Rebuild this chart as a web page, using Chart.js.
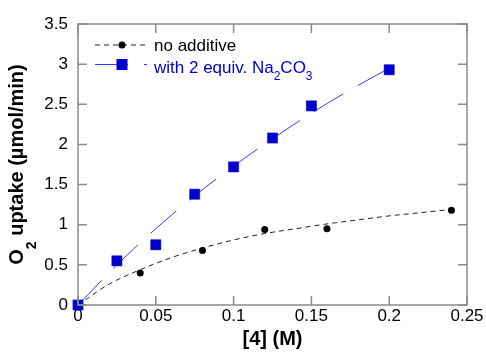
<!DOCTYPE html>
<html><head><meta charset="utf-8">
<script src="https://cdn.jsdelivr.net/npm/chart.js@4/dist/chart.umd.min.js"></script>
<style>html,body{margin:0;padding:0;background:#fff}canvas{display:block}</style>
</head><body>
<canvas id="c" width="486" height="352"></canvas>
<script>
// ---- data ----
const concNoAdd = [0, 0.04, 0.08, 0.12, 0.16, 0.24];
const uptakeNoAdd = [0, 0.40, 0.68, 0.94, 0.95, 1.18];
const concNa2CO3 = [0, 0.025, 0.05, 0.075, 0.1, 0.125, 0.15, 0.2];
const uptakeNa2CO3 = [0, 0.55, 0.75, 1.38, 1.72, 2.08, 2.48, 2.93];
const fitConcNoAdd = [0, 0.02, 0.04, 0.06, 0.08, 0.10, 0.12, 0.14, 0.16, 0.18, 0.20, 0.22, 0.24];
const fitNoAdd = [0, 0.26, 0.44, 0.59, 0.71, 0.81, 0.89, 0.95, 1.01, 1.06, 1.11, 1.15, 1.19];
const fitConcNa2CO3 = [0, 0.025, 0.05, 0.075, 0.1, 0.125, 0.15, 0.175, 0.2];
const fitNa2CO3 = [0, 0.50, 0.95, 1.36, 1.73, 2.07, 2.39, 2.68, 2.95];
const xTicks = [0, 0.05, 0.1, 0.15, 0.2, 0.25];
const yTicks = [0, 0.5, 1, 1.5, 2, 2.5, 3, 3.5];
const legendNoAdd = 'no additive';
const legendNaParts = [['with 2 equiv. Na', 0], ['2', 1], ['CO', 0], ['3', 1]];
const xTitle = '[4] (M)';
const yTitleParts = [['O', 0], ['2', 1], [' uptake (\u00b5mol/min)', 0]];

const FONT = '"Liberation Sans", Arial, Helvetica, sans-serif';
const BLUE = '#0000cc';
const BLUE_LINE = '#3a3aff';
const DARK = '#222222';

const pts = (xs, ys) => xs.map((x, i) => ({x: x, y: ys[i]}));

function drawParts(ctx, parts, x, y, size, subSize, subDrop, bold) {
  let cx = x;
  parts.forEach(([t, sub]) => {
    ctx.font = (bold ? 'bold ' : '') + (sub ? subSize : size) + 'px ' + FONT;
    ctx.fillText(t, cx, sub ? y + subDrop : y);
    cx += ctx.measureText(t).width;
  });
  return cx - x;
}
function partsWidth(ctx, parts, size, subSize, bold) {
  let w = 0;
  parts.forEach(([t, sub]) => {
    ctx.font = (bold ? 'bold ' : '') + (sub ? subSize : size) + 'px ' + FONT;
    w += ctx.measureText(t).width;
  });
  return w;
}

const decor = {
  id: 'decor',
  afterDraw(chart) {
    const ctx = chart.ctx, a = chart.chartArea;
    const xs = chart.scales.x, ys = chart.scales.y;
    ctx.save();
    // frame
    ctx.strokeStyle = '#8a8a8a';
    ctx.lineWidth = 1.5;
    ctx.setLineDash([]);
    ctx.strokeRect(a.left, a.top, a.right - a.left, a.bottom - a.top);
    // inward ticks on all sides
    const TL = 9;
    ctx.beginPath();
    xTicks.forEach(v => {
      const p = xs.getPixelForValue(v);
      ctx.moveTo(p, a.bottom); ctx.lineTo(p, a.bottom - TL);
      ctx.moveTo(p, a.top); ctx.lineTo(p, a.top + TL);
    });
    yTicks.forEach(v => {
      const p = ys.getPixelForValue(v);
      ctx.moveTo(a.left, p); ctx.lineTo(a.left + TL, p);
      ctx.moveTo(a.right, p); ctx.lineTo(a.right - TL, p);
    });
    ctx.stroke();
    ctx.restore();

    // legend
    ctx.save();
    const lx0 = a.left + 17, lx1 = a.left + 69, lmid = a.left + 44, tx = a.left + 76;
    const r1 = a.top + 21, r2 = a.top + 40.5;
    ctx.strokeStyle = DARK; ctx.lineWidth = 1; ctx.setLineDash([5, 4]);
    ctx.beginPath(); ctx.moveTo(lx0, r1); ctx.lineTo(lx1, r1); ctx.stroke();
    ctx.setLineDash([]);
    ctx.fillStyle = '#000';
    ctx.beginPath(); ctx.arc(lmid, r1, 3.5, 0, Math.PI * 2); ctx.fill();
    ctx.strokeStyle = BLUE_LINE; ctx.setLineDash([33, 16]);
    ctx.beginPath(); ctx.moveTo(lx0, r2); ctx.lineTo(lx1, r2); ctx.stroke();
    ctx.setLineDash([]);
    ctx.fillStyle = BLUE;
    ctx.fillRect(lmid - 5.5, r2 - 5.5, 11, 11);
    ctx.textBaseline = 'alphabetic'; ctx.textAlign = 'left';
    ctx.fillStyle = '#000';
    ctx.font = '17px ' + FONT;
    ctx.fillText(legendNoAdd, tx, r1 + 6);
    ctx.fillStyle = BLUE;
    drawParts(ctx, legendNaParts, tx, r2 + 8, 17, 12, 7, false);
    ctx.restore();

    // axis titles
    ctx.save();
    ctx.fillStyle = '#000';
    ctx.textAlign = 'center'; ctx.textBaseline = 'alphabetic';
    ctx.font = 'bold 20px ' + FONT;
    ctx.fillText(xTitle, (a.left + a.right) / 2, 345);
    ctx.textAlign = 'left';
    const w = partsWidth(ctx, yTitleParts, 20, 14, true);
    ctx.translate(23, (a.top + a.bottom) / 2);
    ctx.rotate(-Math.PI / 2);
    drawParts(ctx, yTitleParts, -w / 2, 0, 20, 14, 13, true);
    ctx.restore();
  }
};

new Chart(document.getElementById('c'), {
  type: 'scatter',
  data: {
    datasets: [
      { label: 'with 2 equiv. Na2CO3', data: pts(concNa2CO3, uptakeNa2CO3), showLine: false,
        pointStyle: 'rect', pointRadius: 7.2, pointHoverRadius: 7.2, pointBorderWidth: 0.5,
        backgroundColor: BLUE, borderColor: BLUE, clip: false },
      { label: 'no additive', data: pts(concNoAdd, uptakeNoAdd), showLine: false,
        pointStyle: 'circle', pointRadius: 3.5, pointHoverRadius: 3.5, pointBorderWidth: 0,
        backgroundColor: '#000', borderColor: '#000', clip: false },
      { label: 'fit Na2CO3', data: pts(fitConcNa2CO3, fitNa2CO3), showLine: true, pointRadius: 0,
        borderColor: BLUE_LINE, borderWidth: 1, borderDash: [34, 17], cubicInterpolationMode: 'monotone', clip: false },
      { label: 'fit no additive', data: pts(fitConcNoAdd, fitNoAdd), showLine: true, pointRadius: 0,
        borderColor: DARK, borderWidth: 1, borderDash: [5, 4], cubicInterpolationMode: 'monotone', clip: false }
    ]
  },
  options: {
    responsive: false,
    animation: false,
    events: [],
    layout: { padding: { left: 0, right: 19, top: 24, bottom: 0 } },
    plugins: { legend: { display: false }, tooltip: { enabled: false }, title: { display: false } },
    scales: {
      x: {
        type: 'linear', min: 0, max: 0.25,
        afterBuildTicks: s => { s.ticks = xTicks.map(v => ({value: v})); },
        afterFit: s => { s.height = 47; },
        grid: { display: false, drawTicks: false },
        border: { display: false },
        ticks: { padding: 1, color: '#000', font: { family: FONT, size: 17 },
                 callback: v => String(+(+v).toFixed(3)), maxRotation: 0, autoSkip: false }
      },
      y: {
        type: 'linear', min: 0, max: 3.5,
        afterBuildTicks: s => { s.ticks = yTicks.map(v => ({value: v})); },
        afterFit: s => { s.width = 78; },
        grid: { display: false, drawTicks: false },
        border: { display: false },
        ticks: { padding: 10, color: '#000', font: { family: FONT, size: 17 },
                 callback: v => String(+(+v).toFixed(2)), autoSkip: false }
      }
    }
  },
  plugins: [decor]
});
</script>
</body></html>
